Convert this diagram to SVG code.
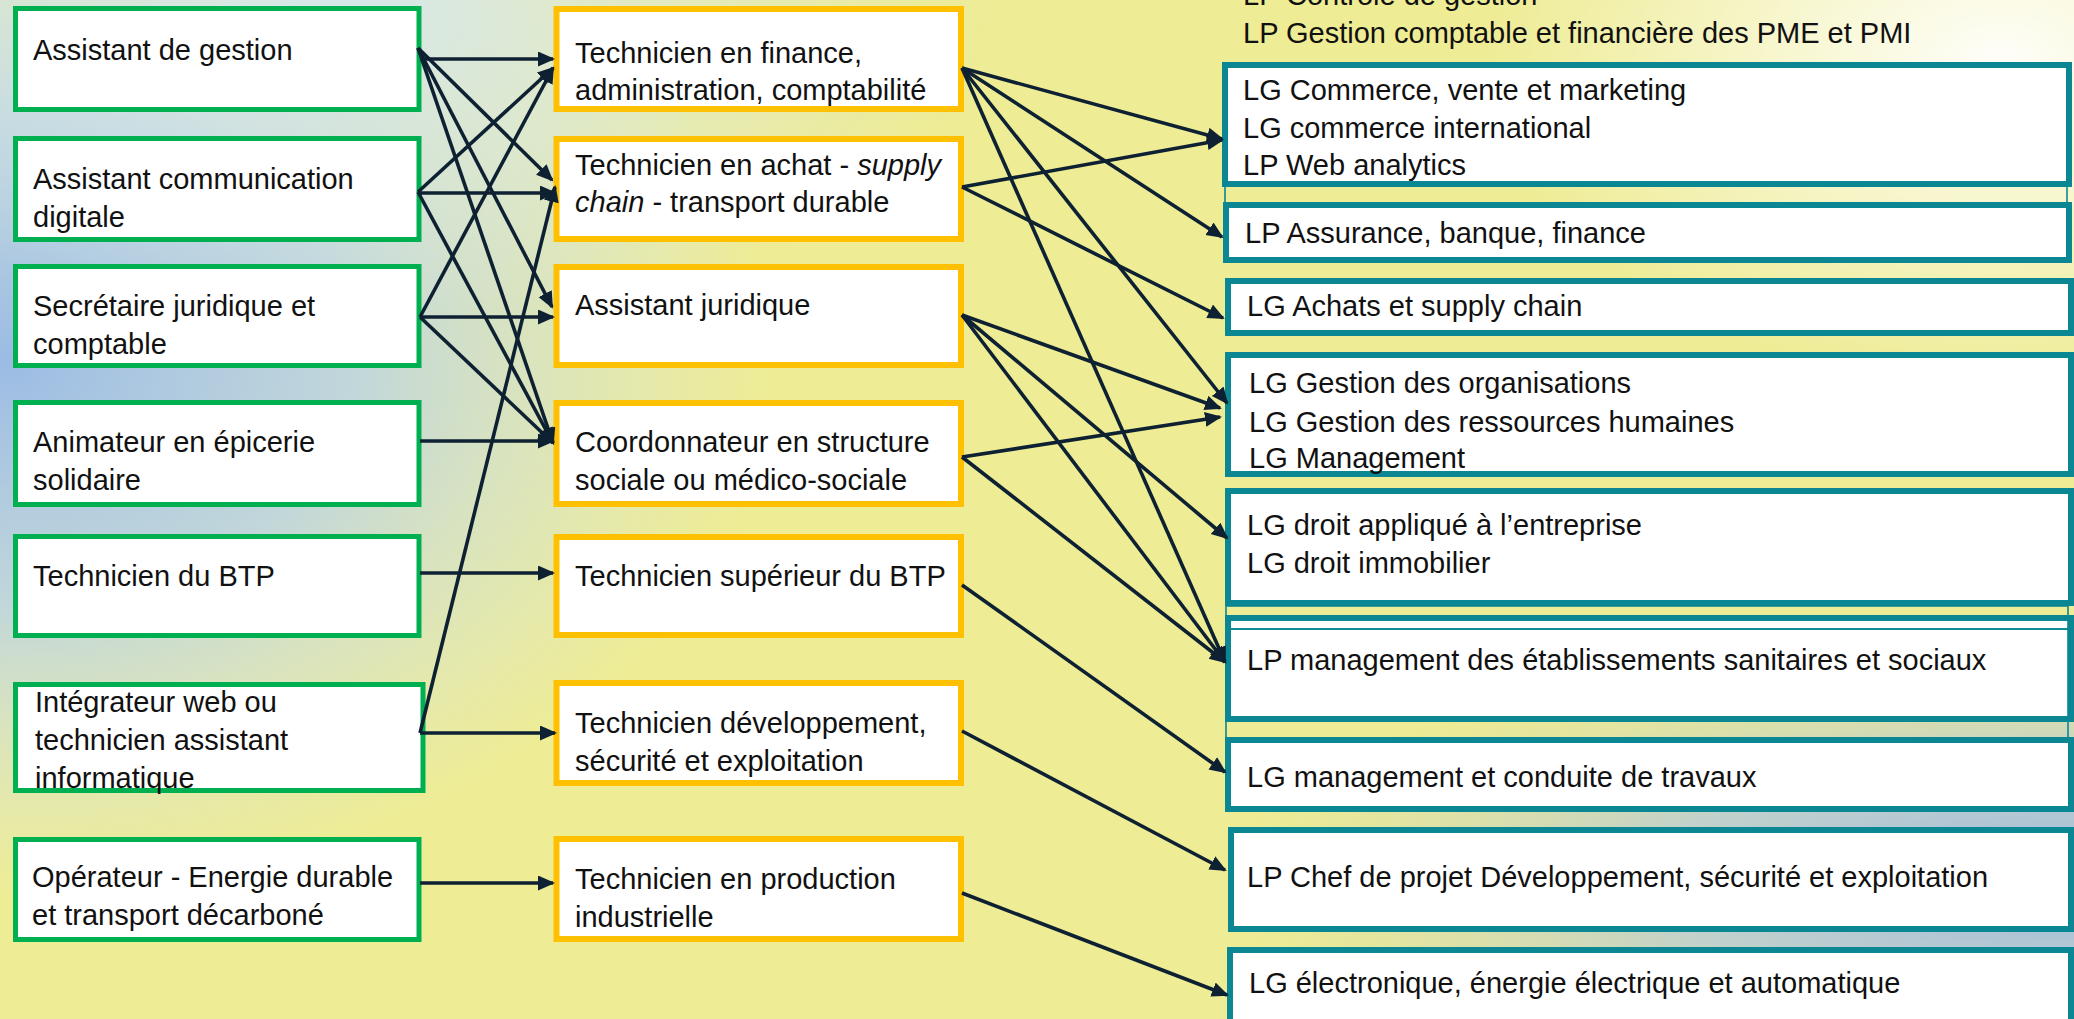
<svg xmlns="http://www.w3.org/2000/svg" width="2074" height="1019" viewBox="0 0 2074 1019">
<defs>
<radialGradient id="blueL" gradientUnits="userSpaceOnUse" cx="0" cy="0" r="1" gradientTransform="translate(0 360) scale(780 540)">
<stop offset="0" stop-color="#9BBBE4" stop-opacity="1"/>
<stop offset="0.45" stop-color="#B5D1EC" stop-opacity="0.8"/>
<stop offset="1" stop-color="#D5E6EE" stop-opacity="0"/>
</radialGradient>
<radialGradient id="topL" gradientUnits="userSpaceOnUse" cx="0" cy="0" r="1" gradientTransform="translate(350 0) scale(650 330)">
<stop offset="0" stop-color="#D6E8F0" stop-opacity="0.9"/>
<stop offset="1" stop-color="#D6E8F0" stop-opacity="0"/>
</radialGradient>
<radialGradient id="whiteR" gradientUnits="userSpaceOnUse" cx="0" cy="0" r="1" gradientTransform="translate(2000 60) scale(520 330)">
<stop offset="0" stop-color="#FFFFFF" stop-opacity="0.95"/>
<stop offset="1" stop-color="#FFFFFF" stop-opacity="0"/>
</radialGradient>
<radialGradient id="blueR" gradientUnits="userSpaceOnUse" cx="0" cy="0" r="1" gradientTransform="translate(2074 880) scale(850 240)">
<stop offset="0" stop-color="#9BB8E0" stop-opacity="1"/>
<stop offset="0.5" stop-color="#B3C8DE" stop-opacity="0.75"/>
<stop offset="1" stop-color="#C8D2C0" stop-opacity="0"/>
</radialGradient>
<marker id="ah" markerUnits="userSpaceOnUse" markerWidth="19" markerHeight="16" refX="15" refY="7.5" orient="auto">
<path d="M0,0 L17,7.5 L0,15 z" fill="#0E2132"/>
</marker>
</defs>
<style>
.bg{fill:#EEEC94}
.g{fill:#FFFFFF;stroke:#00B050;stroke-width:5}
.o{fill:#FFFFFF;stroke:#FFC000;stroke-width:6}
.t{fill:#FFFFFF;stroke:#0B8793;stroke-width:6}
.thin{fill:none;stroke:#0B8793;stroke-width:1.6}
text{font-family:"Liberation Sans",Arial,sans-serif;font-size:29px;fill:#111111}
.i{font-style:italic}
#connectors line{stroke:#0E2132;stroke-width:3.6;marker-end:url(#ah)}
</style>
<rect class="bg" x="0" y="0" width="2074" height="1019"/>
<rect x="0" y="0" width="2074" height="1019" fill="url(#blueL)"/>
<rect x="0" y="0" width="2074" height="1019" fill="url(#topL)"/>
<rect x="0" y="0" width="2074" height="1019" fill="url(#whiteR)"/>
<rect x="0" y="0" width="2074" height="1019" fill="url(#blueR)"/>

<g id="top-text">
<text x="1243" y="5">LP Contrôle de gestion</text>
<text x="1243" y="43">LP Gestion comptable et financière des PME et PMI</text>
</g>

<g id="left-column">
<g id="n-assistant-gestion"><rect class="g" x="15.5" y="8.5" width="403.5" height="101"/><text x="33" y="60">Assistant de gestion</text></g>
<g id="n-assistant-communication"><rect class="g" x="15.5" y="138.5" width="403.5" height="101"/><text x="33" y="189">Assistant communication</text><text x="33" y="227">digitale</text></g>
<g id="n-secretaire"><rect class="g" x="15.5" y="266.5" width="403.5" height="99"/><text x="33" y="316">Secrétaire juridique et</text><text x="33" y="354">comptable</text></g>
<g id="n-animateur"><rect class="g" x="15.5" y="402.5" width="403.5" height="102"/><text x="33" y="452">Animateur en épicerie</text><text x="33" y="490">solidaire</text></g>
<g id="n-technicien-btp"><rect class="g" x="15.5" y="536.5" width="403.5" height="99"/><text x="33" y="586">Technicien du BTP</text></g>
<g id="n-integrateur"><rect class="g" x="15.5" y="684.5" width="407.5" height="106"/><text x="35" y="712">Intégrateur web ou</text><text x="35" y="750">technicien assistant</text><text x="35" y="788">informatique</text></g>
<g id="n-operateur"><rect class="g" x="15.5" y="839.5" width="403.5" height="100"/><text x="32" y="887">Opérateur - Energie durable</text><text x="32" y="925">et transport décarboné</text></g>
</g>

<g id="middle-column">
<g id="n-tech-finance"><rect class="o" x="556.5" y="9" width="404.5" height="100"/><text x="575" y="63">Technicien en finance,</text><text x="575" y="100">administration, comptabilité</text></g>
<g id="n-tech-achat"><rect class="o" x="556.5" y="139" width="404.5" height="100"/><text x="575" y="175">Technicien en achat - <tspan class="i">supply</tspan></text><text x="575" y="212"><tspan class="i">chain</tspan> - transport durable</text></g>
<g id="n-assistant-juridique"><rect class="o" x="556.5" y="267" width="404.5" height="98"/><text x="575" y="315">Assistant juridique</text></g>
<g id="n-coordonnateur"><rect class="o" x="556.5" y="403" width="404.5" height="101"/><text x="575" y="452">Coordonnateur en structure</text><text x="575" y="490">sociale ou médico-sociale</text></g>
<g id="n-tech-sup-btp"><rect class="o" x="556.5" y="537" width="404.5" height="98"/><text x="575" y="586">Technicien supérieur du BTP</text></g>
<g id="n-tech-dev"><rect class="o" x="556.5" y="683" width="404.5" height="100"/><text x="575" y="733">Technicien développement,</text><text x="575" y="771">sécurité et exploitation</text></g>
<g id="n-tech-prod"><rect class="o" x="556.5" y="839" width="404.5" height="100"/><text x="575" y="889">Technicien en production</text><text x="575" y="927">industrielle</text></g>
</g>

<g id="right-column">
<rect class="thin" x="1225" y="70" width="842" height="135"/>
<g id="n-commerce"><rect class="t" x="1225" y="65" width="844" height="119"/><text x="1243" y="100">LG Commerce, vente et marketing</text><text x="1243" y="138">LG commerce international</text><text x="1243" y="175">LP Web analytics</text></g>
<g id="n-assurance"><rect class="t" x="1226" y="205" width="843" height="55"/><text x="1245" y="243">LP Assurance, banque, finance</text></g>
<g id="n-achats"><rect class="t" x="1228" y="281" width="843" height="52"/><text x="1247" y="316">LG Achats et supply chain</text></g>
<g id="n-gestion"><rect class="t" x="1228" y="355" width="843" height="119"/><text x="1249" y="393">LG Gestion des organisations</text><text x="1249" y="432">LG Gestion des ressources humaines</text><text x="1249" y="468">LG Management</text></g>
<g id="n-droit"><rect class="t" x="1228" y="491" width="843" height="112"/><text x="1247" y="535">LG droit appliqué à l’entreprise</text><text x="1247" y="573">LG droit immobilier</text></g>
<g id="n-management-ess"><rect class="t" x="1228" y="618" width="843" height="101"/><text x="1247" y="670">LP management des établissements sanitaires et sociaux</text></g>
<rect class="thin" x="1226" y="606" width="842" height="23"/>
<rect class="thin" x="1226" y="629" width="842" height="110"/>
<g id="n-travaux"><rect class="t" x="1228" y="740" width="843" height="69"/><text x="1247" y="787">LG management et conduite de travaux</text></g>
<g id="n-chef-projet"><rect class="t" x="1231" y="830" width="840" height="99"/><text x="1247" y="887">LP Chef de projet Développement, sécurité et exploitation</text></g>
<g id="n-electronique"><rect class="t" x="1230" y="950" width="841" height="100"/><text x="1249" y="993">LG électronique, énergie électrique et automatique</text></g>
</g>

<g id="connectors">
<line x1="420" y1="59" x2="553" y2="59"/>
<line x1="418" y1="48" x2="552" y2="180"/>
<line x1="418" y1="48" x2="552" y2="307"/>
<line x1="418" y1="48" x2="553" y2="443"/>
<line x1="418" y1="192" x2="553" y2="68"/>
<line x1="420" y1="193" x2="555" y2="193"/>
<line x1="418" y1="192" x2="553" y2="443"/>
<line x1="420" y1="317" x2="553" y2="68"/>
<line x1="420" y1="317" x2="553" y2="317"/>
<line x1="420" y1="317" x2="553" y2="443"/>
<line x1="420" y1="441" x2="553" y2="441"/>
<line x1="420" y1="573" x2="553" y2="573"/>
<line x1="420" y1="733" x2="555" y2="187"/>
<line x1="420" y1="733" x2="555" y2="733"/>
<line x1="420" y1="883" x2="553" y2="883"/>
<line x1="962" y1="68" x2="1222" y2="139"/>
<line x1="962" y1="68" x2="1222" y2="237"/>
<line x1="962" y1="68" x2="1227" y2="403"/>
<line x1="962" y1="68" x2="1225" y2="662"/>
<line x1="962" y1="187" x2="1222" y2="140"/>
<line x1="962" y1="187" x2="1223" y2="318"/>
<line x1="962" y1="315" x2="1220" y2="408"/>
<line x1="962" y1="315" x2="1227" y2="538"/>
<line x1="962" y1="315" x2="1225" y2="662"/>
<line x1="962" y1="457" x2="1220" y2="417"/>
<line x1="962" y1="457" x2="1225" y2="662"/>
<line x1="962" y1="585" x2="1225" y2="772"/>
<line x1="962" y1="731" x2="1225" y2="870"/>
<line x1="962" y1="893" x2="1227" y2="995"/>
</g>
</svg>
